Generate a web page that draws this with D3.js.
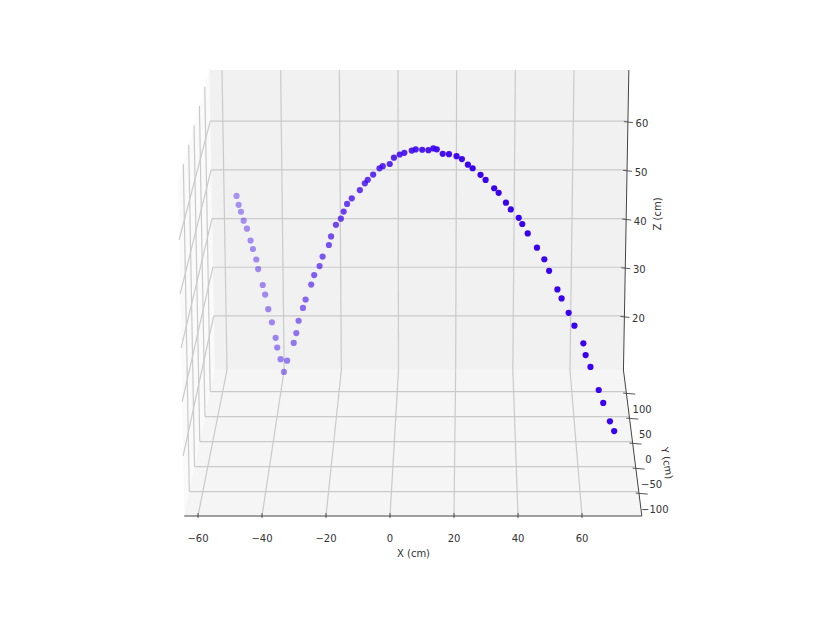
<!DOCTYPE html>
<html>
<head>
<meta charset="utf-8">
<style>
html,body{margin:0;padding:0;background:#fff}
svg{display:block}
text{font-family:"DejaVu Sans",sans-serif;font-size:10px;fill:#333}
</style>
<script src="https://cdn.jsdelivr.net/npm/d3@7"></script>
</head>
<body>
<div id="chart"></div>
<script>
const xTicks = [-60,-40,-20,0,20,40,60];
const yTicks = [-100,-50,0,50,100];
const zTicks = [20,30,40,50,60];
const xLabel = "X (cm)", yLabel = "Y (cm)", zLabel = "Z (cm)";

const ballX = [-55.5,-54.7,-53.8,-52.8,-51.6,-50.3,-49.4,-48.2,-47.5,-45.9,-45.0,-43.9,-42.6,-41.3,-40.7,-39.5,-38.3,
  -37.1,-34.7,-33.7,-32.8,-31.2,-30.2,-28.2,-27.1,-25.2,-24.1,-21.9,-21.1,-19.4,-17.7,-16.7,-15.5,-13.9,-11.2,-9.5,-8.5,-6.7,-4.6,-3.5,-1.2,
  0.2,2.1,3.6,6.0,7.3,9.4,11.4,13.0,14.1,16.0,18.0,20.4,22.1,24.0,25.5,28.0,29.6,32.3,33.7,36.0,37.5,40.0,41.1,42.8,45.7,48.0,49.5,52.1,53.4,55.6,57.4,60.2,60.9,62.4,65.0,66.4,68.5,69.8];
const ballY = [137.0,133.4,129.8,126.2,122.6,119.1,115.5,111.9,108.3,104.7,101.1,97.5,93.9,90.3,86.7,83.2,79.6,
  76.0,72.4,68.8,65.2,61.6,58.0,54.4,50.8,47.3,43.7,40.1,36.5,32.9,29.3,25.7,22.1,18.5,14.9,11.4,7.8,4.2,0.6,-3.0,-6.6,
  -10.2,-13.8,-17.4,-21.0,-24.6,-28.1,-31.7,-35.3,-38.9,-42.5,-46.1,-49.7,-53.3,-56.9,-60.5,-64.0,-67.6,-71.2,-74.8,-78.4,-82.0,-85.6,-89.2,-92.8,-96.4,-99.9,-103.5,-107.1,-110.7,-114.3,-117.9,-121.5,-125.1,-128.7,-132.3,-135.8,-139.4,-143.0];
const ballZ = [45.2,43.7,42.6,41.1,39.8,37.7,36.3,34.5,32.9,30.0,28.4,25.8,23.5,20.7,19.1,17.1,14.9,
  17.5,21.4,23.7,26.5,29.4,31.4,34.7,36.9,39.0,41.2,43.8,45.8,48.4,49.9,51.6,53.4,54.8,56.7,58.3,59.3,60.6,62.1,62.8,63.5,
  65.0,65.9,66.5,67.2,67.7,67.9,68.1,68.7,68.8,68.2,68.4,68.3,68.0,67.2,66.8,65.8,65.1,63.8,63.2,61.6,60.6,59.3,58.4,56.9,54.5,52.6,50.7,47.5,46.1,43.7,41.6,38.6,36.7,34.8,30.8,28.7,25.6,24.1];

const xLim = [-64.3,78.7], yLim = [-148.8,143.2], zLim = [8.9,70.5];

const svg = d3.select("#chart").append("svg").attr("width",830).attr("height",642);

// oblique camera: four x scales at the corners of the box, blended by depth and height
const xFloorFront = d3.scaleLinear().domain([-60,60]).range([198,582]);
const xFloorBack  = d3.scaleLinear().domain([-60,60]).range([227,570]);
const xTopFront   = d3.scaleLinear().domain([-60,60]).range([192.2,585.8]);
const xTopBack    = d3.scaleLinear().domain([-60,60]).range([222,574]);
const depth  = d3.scaleLinear().domain(yLim).range([0,1]);
const floorY = d3.scaleLinear().domain([0,1]).range([516,370]);
const topY   = d3.scaleLinear().domain([0,1]).range([183,70]);
const height = d3.scaleLinear().domain(zLim).range([0,1]);
const opacity = d3.scaleLinear().domain([-61,29,80,137]).range([1,0.72,0.47,0.4]).clamp(true);

function project(x,y,z){
  const t = depth(y), h = height(z);
  const xb = d3.interpolateNumber(xFloorFront(x), xFloorBack(x))(t);
  const xt = d3.interpolateNumber(xTopFront(x), xTopBack(x))(t);
  const yb = floorY(t), yt = topY(t);
  return [xb+(xt-xb)*h, yb+(yt-yb)*h];
}
const [x0,x1] = xLim, [y0,y1] = yLim, [z0,z1] = zLim;
const line = d3.line();

// panes
const panes = [
  {fill:"#fafafa", c:[[x0,y0,z0],[x0,y1,z0],[x0,y1,z1],[x0,y0,z1]]},
  {fill:"#f1f1f1", c:[[x0,y1,z0],[x1,y1,z0],[x1,y1,z1],[x0,y1,z1]]},
  {fill:"#f5f5f5", c:[[x0,y0,z0],[x1,y0,z0],[x1,y1,z0],[x0,y1,z0]]}
];
svg.append("g").selectAll("path").data(panes).join("path")
  .attr("d",d=>line(d.c.map(p=>project(...p)))+"Z").attr("fill",d=>d.fill).attr("stroke","none");

// grid
const grid = [];
xTicks.forEach(x=>{ grid.push([[x,y0,z0],[x,y1,z0]]); grid.push([[x,y1,z0],[x,y1,z1]]); });
yTicks.forEach(y=>{ grid.push([[x0,y,z0],[x1,y,z0]]); grid.push([[x0,y,z0],[x0,y,z1]]); });
zTicks.forEach(z=>{ grid.push([[x0,y0,z],[x0,y1,z]]); grid.push([[x0,y1,z],[x1,y1,z]]); });
svg.append("g").selectAll("path").data(grid).join("path")
  .attr("d",d=>line(d.map(p=>project(...p))))
  .attr("fill","none").attr("stroke","#cacaca").attr("stroke-width",1.2);

// axis lines
const axes = [
  [[x0,y0,z0],[x1,y0,z0]],
  [[x1,y0,z0],[x1,y1,z0]],
  [[x1,y1,z0],[x1,y1,z1]]
];
svg.append("g").selectAll("path").data(axes).join("path")
  .attr("d",d=>line(d.map(p=>project(...p))))
  .attr("fill","none").attr("stroke","#444").attr("stroke-width",1);

// x ticks
const gx = svg.append("g");
xTicks.forEach(v=>{
  const [px,py] = project(v,y0,z0);
  gx.append("line").attr("x1",px).attr("x2",px).attr("y1",py-3).attr("y2",py+2).attr("stroke","#444").attr("stroke-width",0.9);
  gx.append("text").attr("x",px).attr("y",py+22).attr("dy","0.35em").attr("text-anchor","middle").text(String(v).replace("-","−"));
});
// y ticks
const gy = svg.append("g");
yTicks.forEach(v=>{
  const [px,py] = project(x1,v,z0);
  gy.append("line").attr("x1",px-3).attr("x2",px+9).attr("y1",py+1.5).attr("y2",py+2.5).attr("stroke","#444").attr("stroke-width",0.9);
  gy.append("text").attr("x",px+16).attr("y",py+17.5).attr("dy","0.35em").attr("text-anchor","middle").text(String(v).replace("-","−"));
});
// z ticks
const gz = svg.append("g");
zTicks.forEach(v=>{
  const [px,py] = project(x1,y1,v);
  gz.append("line").attr("x1",px-4).attr("x2",px+5).attr("y1",py+0.5).attr("y2",py+1.5).attr("stroke","#444").attr("stroke-width",0.9);
  gz.append("text").attr("x",px+14).attr("y",py+2.5).attr("dy","0.35em").attr("text-anchor","middle").text(v);
});

// axis titles
svg.append("text").attr("x",413.5).attr("y",553).attr("dy","0.35em").attr("text-anchor","middle").text(xLabel);
svg.append("text").attr("transform","translate(667,463) rotate(80.5)").attr("dy","0.35em").attr("text-anchor","middle").text(yLabel);
svg.append("text").attr("transform","translate(657,214) rotate(-90)").attr("dy","0.35em").attr("text-anchor","middle").text(zLabel);

// scatter
svg.append("g").selectAll("circle").data(ballX.map((x,i)=>({x,y:ballY[i],z:ballZ[i]}))).join("circle")
  .attr("cx",d=>project(d.x,d.y,d.z)[0])
  .attr("cy",d=>project(d.x,d.y,d.z)[1])
  .attr("r",3.1)
  .attr("fill","#3a00f0")
  .attr("fill-opacity",d=>opacity(d.y));
</script>
</body>
</html>
